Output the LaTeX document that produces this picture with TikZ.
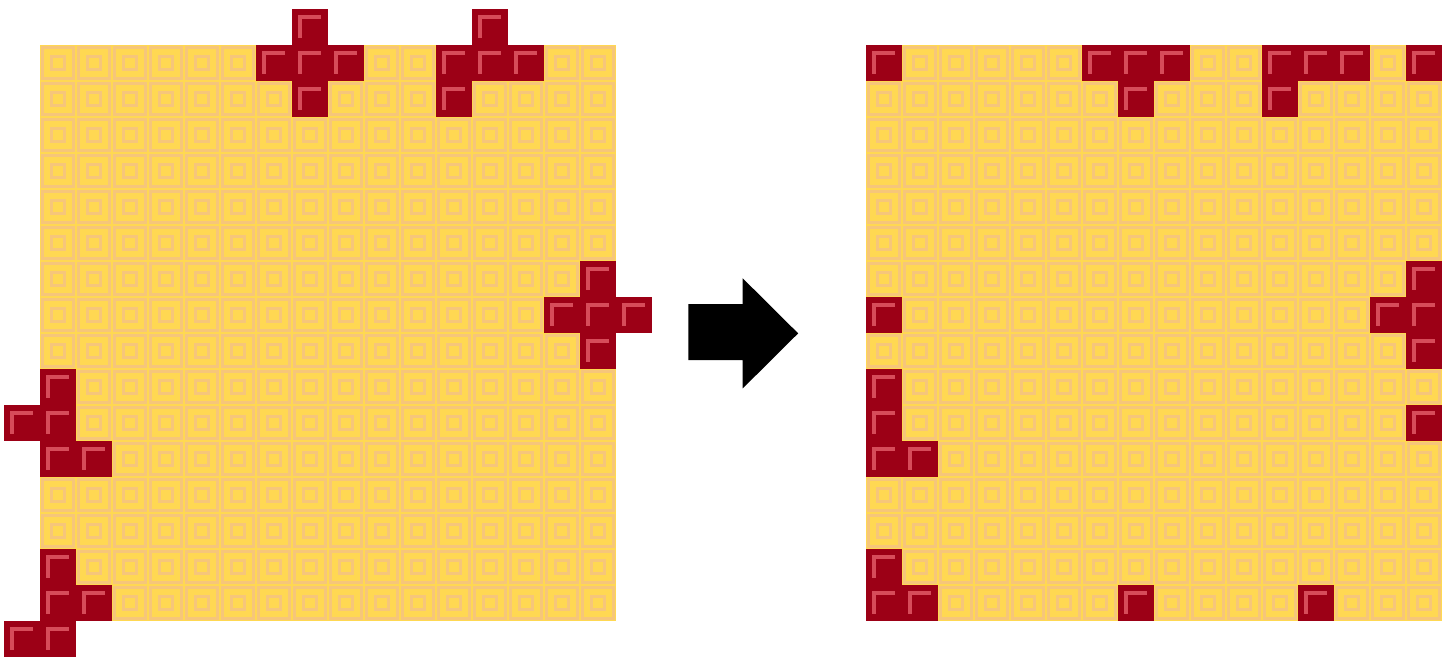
\documentclass[tikz,border=0pt]{standalone}
\definecolor{tileyellow}{RGB}{255,216,82}
\definecolor{tiletan}{RGB}{246,198,122}
\definecolor{blockred}{RGB}{156,0,22}
\definecolor{blockmark}{RGB}{214,76,90}
\usetikzlibrary{calc}

\tikzset{
  tileframe/.style={tiletan, line width=1.3pt},
  tileinner/.style={tiletan, line width=1.1pt},
  redmark/.style={blockmark, line width=1.7pt},
}

% one 16x16 floor, #1 = x offset in cells
\newcommand{\floorgrid}[1]{%
  \fill[tileyellow] (#1,0) rectangle ++(16,16);
  \foreach \col in {0,...,15}
    \foreach \row in {0,...,15} {
      \draw[tileframe, shift={(#1+\col,\row)}] (0.07,0.07) rectangle (0.93,0.93);
      \draw[tileinner, shift={(#1+\col,\row)}] (0.31,0.31) rectangle (0.69,0.69);
    }
}

% one red block at column #1, row #2
\newcommand{\redcell}[2]{%
  \fill[blockred] (#1,#2) rectangle ++(1,1);
  \draw[redmark, shift={(#1,#2)}] (0.22,0.8) -- (0.22,0.22) -- (0.8,0.22);
}

\begin{document}
\begin{tikzpicture}[x=0.5cm, y=-0.5cm]
\useasboundingbox (-1.111,-1.25) rectangle (39.306,17.028);

% --- Left floor: pieces sticking out ---
\floorgrid{0}
\foreach \cx/\cy in {7/-1, 6/0, 7/0, 8/0, 7/1,
                     12/-1, 11/0, 12/0, 13/0, 11/1,
                     15/6, 14/7, 15/7, 16/7, 15/8,
                     0/9, -1/10, 0/10, 0/11, 1/11,
                     0/14, 0/15, 1/15, -1/16, 0/16}
  \redcell{\cx}{\cy};

% --- Arrow ---
\fill[black] (18.01,7.20) -- (19.52,7.20) -- (19.52,6.48) -- (21.06,8.01)
  -- (19.52,9.54) -- (19.52,8.75) -- (18.01,8.75) -- cycle;

% --- Right floor: pieces wrapped round ---
\begin{scope}[xshift=22.944*0.5cm]
\floorgrid{0}
\foreach \cx/\cy in {7/15, 6/0, 7/0, 8/0, 7/1,
                     12/15, 11/0, 12/0, 13/0, 11/1,
                     15/6, 14/7, 15/7, 0/7, 15/8,
                     0/9, 15/10, 0/10, 0/11, 1/11,
                     0/14, 0/15, 1/15, 15/0, 0/0}
  \redcell{\cx}{\cy};
\end{scope}

\end{tikzpicture}
\end{document}
